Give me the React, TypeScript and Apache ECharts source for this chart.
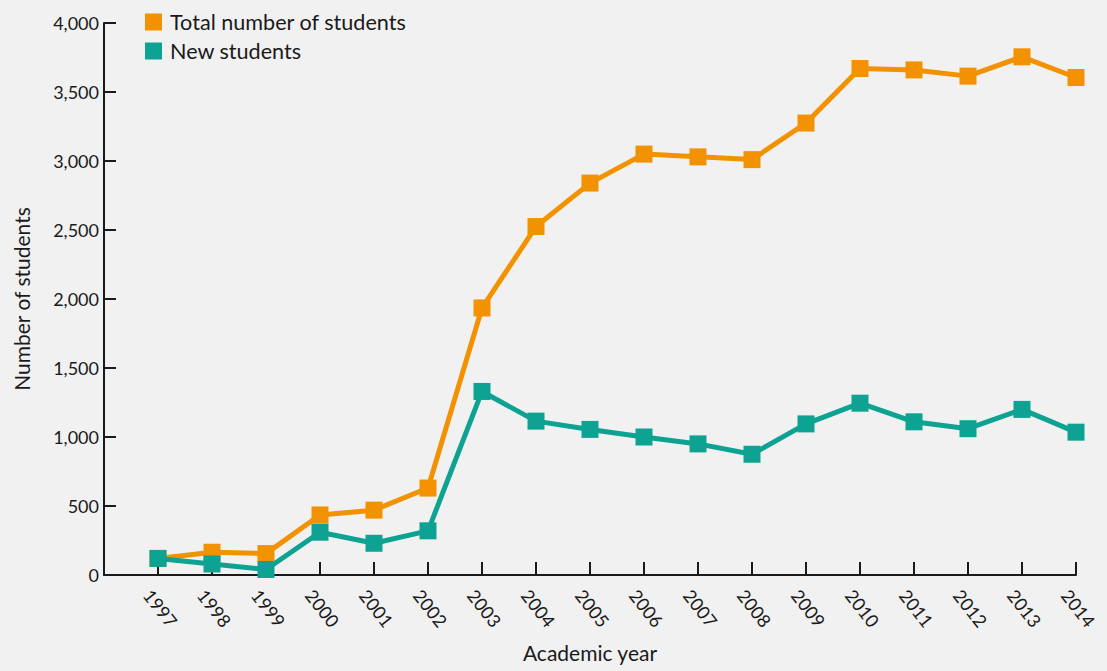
import React, { useEffect, useRef } from "react";
import * as echarts from "echarts";

const years = [1997, 1998, 1999, 2000, 2001, 2002, 2003, 2004, 2005, 2006, 2007, 2008, 2009, 2010, 2011, 2012, 2013, 2014];
const totalStudents = [120, 165, 155, 435, 470, 630, 1935, 2525, 2840, 3050, 3030, 3010, 3275, 3670, 3660, 3615, 3755, 3605];
const newStudents = [120, 80, 40, 310, 230, 320, 1330, 1115, 1055, 1000, 950, 875, 1095, 1245, 1110, 1060, 1200, 1035];
const seriesNames = ["Total number of students", "New students"];
const colors = ["#F39200", "#0DA291"];

const FONT = "Lato";
const TEXT = "#1a1a1a";

export default function App() {
  const ref = useRef<HTMLDivElement>(null);
  useEffect(() => {
    document.body.style.margin = "0";
    document.body.style.background = "#F1F1F1";
    const chart = echarts.init(ref.current!, null, { renderer: "svg" });
    const mk = (vals: number[]) => years.map((y, i) => [y, vals[i]]);
    chart.setOption({
      animation: false,
      backgroundColor: "#F1F1F1",
      textStyle: { fontFamily: FONT, color: TEXT },
      grid: { left: 104, right: 31, top: 23, bottom: 96, containLabel: false, outerBoundsMode: "none" },
      legend: {
        orient: "vertical",
        left: 145,
        top: 11,
        padding: 0,
        itemWidth: 17,
        itemHeight: 17,
        itemGap: 7,
        icon: "rect",
        textStyle: { fontFamily: FONT, fontSize: 21.6, color: TEXT, lineHeight: 21, padding: [0, 0, 0, 3] },
        data: seriesNames,
      },
      xAxis: {
        type: "value",
        min: 1996,
        max: 2014,
        interval: 1,
        name: "Academic year",
        nameLocation: "middle",
        nameGap: 67,
        nameTextStyle: { fontFamily: FONT, fontSize: 21, color: TEXT },
        axisLine: { show: true, onZero: false, lineStyle: { color: TEXT, width: 2 } },
        axisTick: { show: true, inside: true, length: 13, lineStyle: { color: TEXT, width: 2 } },
        splitLine: { show: false },
        axisLabel: {
          rotate: -52,
          margin: 30,
          align: "center",
          verticalAlign: "middle",
          fontFamily: FONT,
          fontSize: 18,
          color: TEXT,
          padding: [0, 0, 0, 8],
          formatter: (v: number) => (v === 1996 ? "" : String(v)),
        },
      },
      yAxis: {
        type: "value",
        min: 0,
        max: 4000,
        interval: 500,
        name: "Number of students",
        nameLocation: "middle",
        nameGap: 72,
        nameRotate: 90,
        nameTextStyle: { fontFamily: FONT, fontSize: 21, color: TEXT },
        axisLine: { show: true, lineStyle: { color: TEXT, width: 2 } },
        axisTick: { show: true, inside: true, length: 12, lineStyle: { color: TEXT, width: 2 } },
        splitLine: { show: false },
        axisLabel: {
          margin: 5,
          fontFamily: FONT,
          fontSize: 18,
          color: TEXT,
          formatter: (v: number) => v.toLocaleString("en-US"),
        },
      },
      series: [
        {
          name: seriesNames[0],
          type: "line",
          data: mk(totalStudents),
          symbol: "rect",
          symbolSize: 17,
          lineStyle: { color: colors[0], width: 5 },
          itemStyle: { color: colors[0] },
          z: 2,
        },
        {
          name: seriesNames[1],
          type: "line",
          data: mk(newStudents),
          symbol: "rect",
          symbolSize: 17,
          lineStyle: { color: colors[1], width: 5 },
          itemStyle: { color: colors[1] },
          z: 3,
        },
      ],
    });
    return () => chart.dispose();
  }, []);
  return <div ref={ref} style={{ width: 1107, height: 671 }} />;
}
